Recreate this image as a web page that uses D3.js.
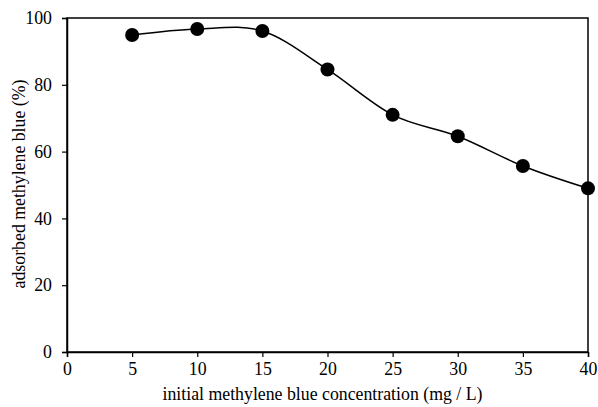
<!DOCTYPE html>
<html>
<head>
<meta charset="utf-8">
<script src="https://cdn.jsdelivr.net/npm/d3@7"></script>
<style>
  body { margin: 0; background: #fff; }
  svg, svg text { font-family: "Liberation Serif", "Times New Roman", serif; }
  svg { display: block; }
</style>
</head>
<body>
<div id="chart"></div>
<script>
const concentrations = [5, 10, 15, 20, 25, 30, 35, 40];
const adsorbed = [94.9, 96.7, 96.1, 84.6, 71.0, 64.6, 55.7, 49.0];
const xTicks = [0, 5, 10, 15, 20, 25, 30, 35, 40];
const yTicks = [0, 20, 40, 60, 80, 100];
const xTitle = "initial methylene blue concentration (mg / L)";
const yTitle = "adsorbed methylene blue (%)";

const width = 598, height = 407;
const margin = {top: 18, right: 10, bottom: 55, left: 67};
const fontSize = 17.8;

const svg = d3.select("#chart").append("svg")
    .attr("width", width)
    .attr("height", height);

const x = d3.scaleLinear().domain([0, 40]).range([margin.left, width - margin.right]);
const y = d3.scaleLinear().domain([0, 100]).range([height - margin.bottom, margin.top]);

// frame
svg.append("rect")
    .attr("x", x(0)).attr("y", y(100))
    .attr("width", x(40) - x(0)).attr("height", y(0) - y(100))
    .attr("fill", "none").attr("stroke", "#000").attr("stroke-width", 1.5);

const xAxis = svg.append("g")
    .attr("transform", `translate(0,${y(0)})`)
    .call(d3.axisBottom(x).tickValues(xTicks).tickSize(5).tickPadding(5));
const yAxis = svg.append("g")
    .attr("transform", `translate(${x(0)},0)`)
    .call(d3.axisLeft(y).tickValues(yTicks).tickSize(5).tickPadding(10));

[xAxis, yAxis].forEach(a => {
    a.attr("font-family", null).attr("font-size", null);
    a.select(".domain").attr("stroke-width", 1.5);
    a.selectAll(".tick line").attr("stroke-width", 1.2);
    a.selectAll("text")
        .style("font-family", "'Liberation Serif', serif")
        .style("font-size", fontSize + "px")
        .attr("fill", "#000");
});

const line = d3.line()
    .x((d, i) => x(concentrations[i]))
    .y(d => y(d))
    .curve(d3.curveCatmullRom.alpha(0));

svg.append("path")
    .datum(adsorbed)
    .attr("d", line)
    .attr("fill", "none")
    .attr("stroke", "#000")
    .attr("stroke-width", 1.5);

svg.selectAll("circle.pt")
    .data(adsorbed)
    .join("circle")
    .attr("class", "pt")
    .attr("cx", (d, i) => x(concentrations[i]))
    .attr("cy", d => y(d))
    .attr("r", 7)
    .attr("fill", "#000");

svg.append("text")
    .attr("x", 322.5)
    .attr("y", 400)
    .attr("text-anchor", "middle")
    .style("font-size", fontSize + "px")
    .text(xTitle);

svg.append("text")
    .attr("transform", `translate(25,${184}) rotate(-90)`)
    .attr("text-anchor", "middle")
    .style("font-size", fontSize + "px")
    .text(yTitle);
</script>
</body>
</html>
